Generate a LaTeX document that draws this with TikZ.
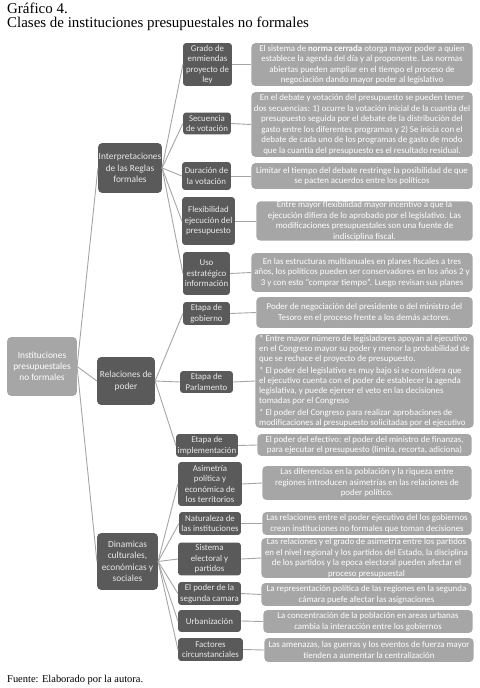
\documentclass[tikz,border=0pt]{standalone}
\usepackage{fontspec}
\setmainfont{Carlito}
\newfontfamily\titlefont{Liberation Serif}
\usetikzlibrary{positioning}
\definecolor{darkbox}{RGB}{90,90,90}
\definecolor{lightbox}{RGB}{166,166,166}
\definecolor{linkgray}{RGB}{165,165,165}
\definecolor{darktext}{RGB}{232,232,232}

\begin{document}
\begin{tikzpicture}[x=1bp, y=-1bp,
    rootbox/.style={rectangle, fill=lightbox, text=white, rounded corners=4pt, align=center, inner sep=1pt, font=\fontsize{9.4}{11.2}\selectfont},
    catbox/.style={rectangle, fill=darkbox, text=darktext, rounded corners=4pt, align=center, inner sep=0.5pt, font=\fontsize{9.4}{11.5}\selectfont},
    subbox/.style={rectangle, fill=darkbox, text=darktext, rounded corners=3pt, align=center, inner sep=0pt, font=\fontsize{8.9}{10.5}\selectfont},
    descbox/.style={rectangle, fill=lightbox, text=white, rounded corners=4pt, align=center, inner sep=0pt, font=\fontsize{8.9}{10.6}\selectfont},
    link/.style={draw=linkgray, line width=0.9pt}
]
\useasboundingbox (0,0) rectangle (480,688);

% title and source
\node[anchor=north west, align=left, inner sep=0pt, font=\titlefont\fontsize{15}{14.5}\selectfont] (title) at (7,2.5) {Gráfico 4.\\Clases de instituciones presupuestales no formales};
\node[anchor=west, inner sep=0pt, font=\titlefont\fontsize{10.5}{12}\selectfont] (source) at (7,680) {Fuente: Elaborado por la autora.};

% root and categories
\node[rootbox, minimum width=70, minimum height=59] (root) at (42,366.5) {Instituciones\\presupuestales\\no formales};
\node[catbox, minimum width=64, minimum height=50] (reglas) at (130,168) {Interpretaciones\\de las Reglas\\formales};
\node[catbox, minimum width=58, minimum height=48] (poder) at (126,381) {Relaciones de\\poder};
\node[catbox, minimum width=61, minimum height=57] (dinam) at (127.5,561.5) {Dinamicas\\culturales,\\económicas y\\sociales};

% subcategories
\node[subbox, minimum width=49, minimum height=43] (grado) at (207.5,64.5) {Grado de\\enmiendas\\proyecto de\\ley};
\node[subbox, minimum width=48, minimum height=22] (secu) at (207,123.5) {Secuencia\\de votación};
\node[subbox, minimum width=49, minimum height=28] (durac) at (206.5,176) {Duración de\\la votación};
\node[subbox, minimum width=53, minimum height=48] (flexi) at (208.5,221) {Flexibilidad\\ejecución del\\presupuesto};
\node[subbox, minimum width=47, minimum height=43] (uso) at (206.5,273.5) {Uso\\estratégico\\información};
\node[subbox, minimum width=47, minimum height=23] (gobi) at (206.5,313.5) {Etapa de\\gobierno};
\node[subbox, minimum width=53, minimum height=22] (parla) at (206.5,382) {Etapa de\\Parlamento};
\node[subbox, minimum width=62, minimum height=23] (imple) at (207,445.5) {Etapa de\\implementación};
\node[subbox, minimum width=64, minimum height=44] (asime) at (210,484) {Asimetría\\política y\\económica de\\los territorios};
\node[subbox, minimum width=62, minimum height=23] (natu) at (210,523.5) {Naturaleza de\\las instituciones};
\node[subbox, minimum width=63, minimum height=33] (siste) at (209.5,559) {Sistema\\electoral y\\partidos};
\node[subbox, minimum width=63, minimum height=23] (segun) at (209.5,593.5) {El poder de la\\segunda camara};
\node[subbox, minimum width=63, minimum height=22] (urba) at (209.5,621) {Urbanización};
\node[subbox, minimum width=65, minimum height=23] (facto) at (210.5,649.5) {Factores\\circunstanciales};

% descriptions
\node[descbox, minimum width=222, minimum height=43] (dgrado) at (362,64.5) {El sistema de \textbf{norma cerrada} otorga mayor poder a quien\\establece la agenda del día y al proponente. Las normas\\abiertas pueden ampliar en el tiempo el proceso de\\negociación dando mayor poder al legislativo};
\node[descbox, minimum width=222, minimum height=65] (dsecu) at (362,124.5) {En el debate y votación del presupuesto se pueden tener\\dos secuencias: 1) ocurre la votación inicial de la cuantia del\\presupuesto seguida por el debate de la distribución del\\gasto entre los diferentes programas y 2) Se inicia con el\\debate de cada uno de los programas de gasto de modo\\que la cuantía del presupuesto es el resultado residual.};
\node[descbox, minimum width=222, minimum height=26] (ddurac) at (362,176) {Limitar el tiempo del debate restringe la posibilidad de que\\se pacten acuerdos entre los políticos};
\node[descbox, minimum width=217, minimum height=38] (dflexi) at (364.5,221) {Entre mayor flexibilidad mayor incentivo a que la\\ejecución difiera de lo aprobado por el legislativo. Las\\modificaciones presupuestales son una fuente de\\indisciplina fiscal.};
\node[descbox, minimum width=222, minimum height=39] (duso) at (362,272.5) {En las estructuras multianuales en planes fiscales a tres\\años, los políticos pueden ser conservadores en los años 2 y\\3 y con esto “comprar tiempo”. Luego revisan sus planes};
\node[descbox, minimum width=217, minimum height=31] (dgobi) at (364.5,312.5) {Poder de negociación del presidente o del ministro del\\Tesoro en el proceso frente a los demás actores.};
\node[descbox, minimum width=219, minimum height=94, align=left, font=\fontsize{8.9}{10}\selectfont] (dparla) at (364.5,381) {* Entre mayor número de legisladores apoyan al ejecutivo\\en el Congreso mayor su poder y menor la probabilidad de\\que se rechace el proyecto de presupuesto.\\[2pt]* El poder del legislativo es muy bajo si se considera que\\el ejecutivo cuenta con el poder de establecer la agenda\\legislativa, y puede ejercer el veto en las decisiones\\tomadas por el Congreso\\[2pt]* El poder del Congreso para realizar aprobaciones de\\modificaciones al presupuesto solicitadas por el ejecutivo};
\node[descbox, minimum width=215, minimum height=22] (dimple) at (364.5,445) {El poder del efectivo: el poder del ministro de finanzas,\\para ejecutar el presupuesto (limita, recorta, adiciona)};
\node[descbox, minimum width=210, minimum height=34] (dasime) at (367,483) {Las diferencias en la población y la riqueza entre\\regiones introducen asimetrías en las relaciones de\\poder político.};
\node[descbox, minimum width=210, minimum height=23] (dnatu) at (367,523.5) {Las relaciones entre el poder ejecutivo del los gobiernos\\crean instituciones no formales que toman decisiones};
\node[descbox, minimum width=211, minimum height=40] (dsiste) at (366.5,558) {Las relaciones y el grado de asimetría entre los partidos\\en el nivel regional y los partidos del Estado, la disciplina\\de los partidos y la epoca electoral pueden afectar el\\proceso presupuestal};
\node[descbox, minimum width=211, minimum height=23] (dsegun) at (366.5,594.5) {La representación política de las regiones en la segunda\\cámara puefe afectar las asignaciones};
\node[descbox, minimum width=210, minimum height=23] (durba) at (368,621.5) {La concentración de la población en areas urbanas\\cambia la interacción entre los gobiernos};
\node[descbox, minimum width=210, minimum height=24] (dfacto) at (369,650) {Las amenazas, las guerras y los eventos de fuerza mayor\\tienden a aumentar la centralización};

% connectors
\draw[link] (root.east) -- (reglas.west);
\draw[link] (root.east) -- (poder.west);
\draw[link] (root.east) -- (dinam.west);

\draw[link] (reglas.east) -- (grado.west);
\draw[link] (reglas.east) -- (secu.west);
\draw[link] (reglas.east) -- (durac.west);
\draw[link] (reglas.east) -- (flexi.west);
\draw[link] (reglas.east) -- (uso.west);

\draw[link] (poder.east) -- (gobi.west);
\draw[link] (poder.east) -- (parla.west);
\draw[link] (poder.east) -- (imple.west);

\draw[link] (dinam.east) -- (asime.west);
\draw[link] (dinam.east) -- (natu.west);
\draw[link] (dinam.east) -- (siste.west);
\draw[link] (dinam.east) -- (segun.west);
\draw[link] (dinam.east) -- (urba.west);
\draw[link] (dinam.east) -- (facto.west);

\draw[link] (grado.east) -- (dgrado.west);
\draw[link] (secu.east) -- (dsecu.west);
\draw[link] (durac.east) -- (ddurac.west);
\draw[link] (flexi.east) -- (dflexi.west);
\draw[link] (uso.east) -- (duso.west);
\draw[link] (gobi.east) -- (dgobi.west);
\draw[link] (parla.east) -- (dparla.west);
\draw[link] (imple.east) -- (dimple.west);
\draw[link] (asime.east) -- (dasime.west);
\draw[link] (natu.east) -- (dnatu.west);
\draw[link] (siste.east) -- (dsiste.west);
\draw[link] (segun.east) -- (dsegun.west);
\draw[link] (urba.east) -- (durba.west);
\draw[link] (facto.east) -- (dfacto.west);
\end{tikzpicture}
\end{document}
